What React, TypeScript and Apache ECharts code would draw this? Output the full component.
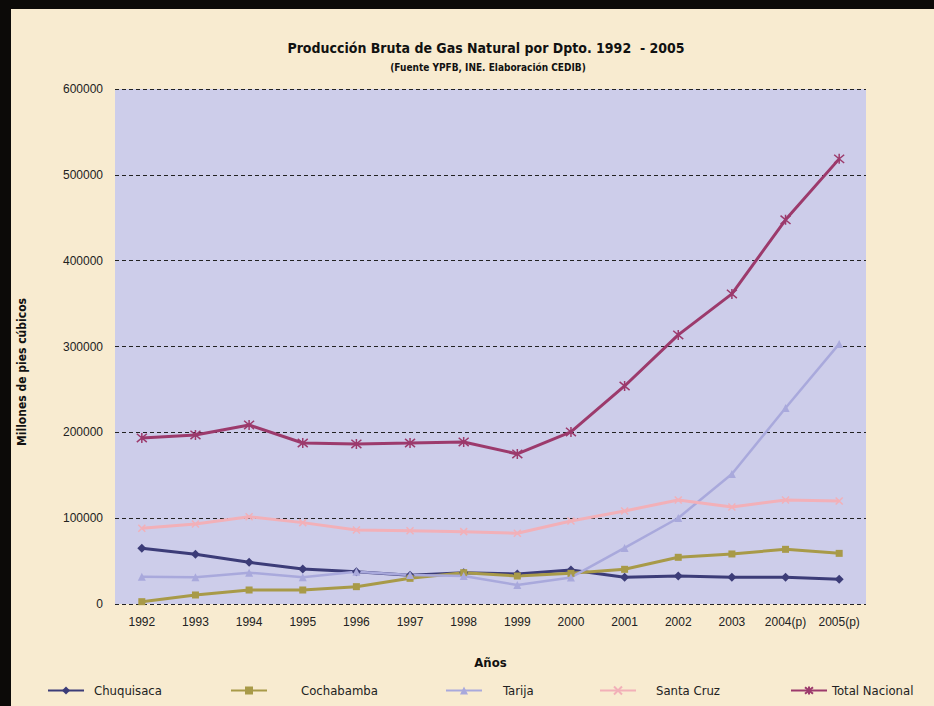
import React, { useEffect, useRef } from "react";
import * as echarts from "echarts";

const years = ["1992", "1993", "1994", "1995", "1996", "1997", "1998", "1999", "2000", "2001", "2002", "2003", "2004(p)", "2005(p)"];
const chuquisaca = [64900, 57900, 48600, 40800, 37700, 33400, 36500, 35000, 39600, 31100, 32600, 31100, 31100, 28800];
const cochabamba = [2700, 10500, 16300, 16300, 20200, 29900, 36500, 32600, 35700, 40400, 54400, 58300, 63700, 59000];
const tarija = [31800, 31100, 36500, 31100, 37700, 33800, 32600, 22100, 31000, 65300, 100200, 151500, 228400, 303000];
const santaCruz = [88200, 93200, 101700, 94800, 86200, 85400, 84300, 82400, 96700, 108400, 121200, 113000, 121200, 120000];
const totalNacional = [193500, 197000, 208600, 187600, 186500, 187600, 188800, 174800, 200500, 254000, 313500, 361300, 447600, 518600];

const seriesNames = ["Chuquisaca", "Cochabamba", "Tarija", "Santa Cruz", "Total Nacional"];
const seriesData = [chuquisaca, cochabamba, tarija, santaCruz, totalNacional];
const colors = ["#3c3c78", "#a89a48", "#a9a9dc", "#f2b0b8", "#9c3a6c"];
const symbols = [
  "diamond",
  "rect",
  "triangle",
  "path://M0,0L10,10M10,0L0,10",
  "path://M0,0L10,10M10,0L0,10M5,-1L5,11",
];
const symbolSizes = [9, 7, 8, 7, 10];
const legendLefts = [42, 225, 440, 594, 785];
const legendTextPad = [5, 29, 16, 15, 0];

export default function App() {
  const ref = useRef<HTMLDivElement>(null);
  useEffect(() => {
    document.body.style.margin = "0";
    const chart = echarts.init(ref.current!, null, { renderer: "svg" });
    const narrow = "'Liberation Sans Narrow', 'DejaVu Sans Condensed', 'Liberation Sans', sans-serif";
    const cond = "'DejaVu Sans Condensed', 'Liberation Sans Narrow', sans-serif";
    const series = seriesNames.map((name, i) => {
      const isPath = symbols[i].startsWith("path");
      return {
        name,
        type: "line",
        data: seriesData[i],
        symbol: symbols[i],
        symbolSize: symbolSizes[i],
        lineStyle: { color: colors[i], width: i === 2 ? 2.5 : 3 },
        itemStyle: isPath
          ? { color: colors[i], borderColor: colors[i], borderWidth: 1.5 }
          : { color: colors[i] },
        emphasis: { disabled: true },
        z: i === 4 ? 5 : 3,
      };
    });
    chart.setOption({
      animation: false,
      backgroundColor: "#f8ebd0",
      title: [
        {
          text: "Producción Bruta de Gas Natural por Dpto. 1992  - 2005",
          left: 481,
          top: 36,
          textAlign: "center",
          textStyle: { fontFamily: cond, fontWeight: "bold", fontSize: 14, color: "#111" },
        },
        {
          text: "(Fuente YPFB, INE. Elaboración CEDIB)",
          left: 483,
          top: 57,
          textAlign: "center",
          textStyle: { fontFamily: cond, fontWeight: "bold", fontSize: 10, color: "#111" },
        },
      ],
      graphic: [
        { type: "rect", left: 0, top: 0, shape: { width: 934, height: 9 }, style: { fill: "#0c0a08" }, z: 100 },
        { type: "rect", left: 0, top: 0, shape: { width: 11, height: 706 }, style: { fill: "#0c0a08" }, z: 100 },
        {
          type: "text",
          x: 22,
          y: 372,
          rotation: Math.PI / 2,
          style: {
            text: "Millones de pies cúbicos",
            fontFamily: cond,
            fontWeight: "bold",
            fontSize: 12,
            fill: "#111",
            align: "center",
            verticalAlign: "middle",
          },
        },
      ],
      legend: seriesNames.map((name, i) => ({
        data: [name],
        left: legendLefts[i],
        top: 679,
        itemWidth: 36,
        itemHeight: 10,
        textStyle: { fontFamily: narrow, fontSize: 13, color: "#222", padding: [0, 0, 0, legendTextPad[i]] },
        selectedMode: false,
      })),
      grid: {
        left: 115,
        right: 68,
        top: 89,
        bottom: 102,
        show: true,
        backgroundColor: "#cdcdea",
        borderWidth: 0,
      },
      xAxis: {
        type: "category",
        data: years,
        boundaryGap: true,
        name: "Años",
        nameLocation: "middle",
        nameGap: 52,
        nameTextStyle: { fontFamily: cond, fontWeight: "bold", fontSize: 13, color: "#111" },
        axisLine: { show: false },
        axisTick: { show: false },
        axisLabel: { fontFamily: "'Liberation Sans', Arial, sans-serif", fontSize: 12, color: "#222", margin: 12, interval: 0 },
      },
      yAxis: {
        type: "value",
        min: 0,
        max: 600000,
        interval: 100000,
        axisLine: { show: false },
        axisTick: { show: false },
        axisLabel: {
          fontFamily: "'Liberation Sans', Arial, sans-serif",
          fontSize: 12,
          color: "#222",
          margin: 12,
          formatter: (v: number) => String(v),
        },
        splitLine: { show: true, lineStyle: { color: "#222", type: [4, 3], width: 1 } },
      },
      series,
    });
    return () => chart.dispose();
  }, []);
  return <div ref={ref} style={{ width: 934, height: 706 }} />;
}
